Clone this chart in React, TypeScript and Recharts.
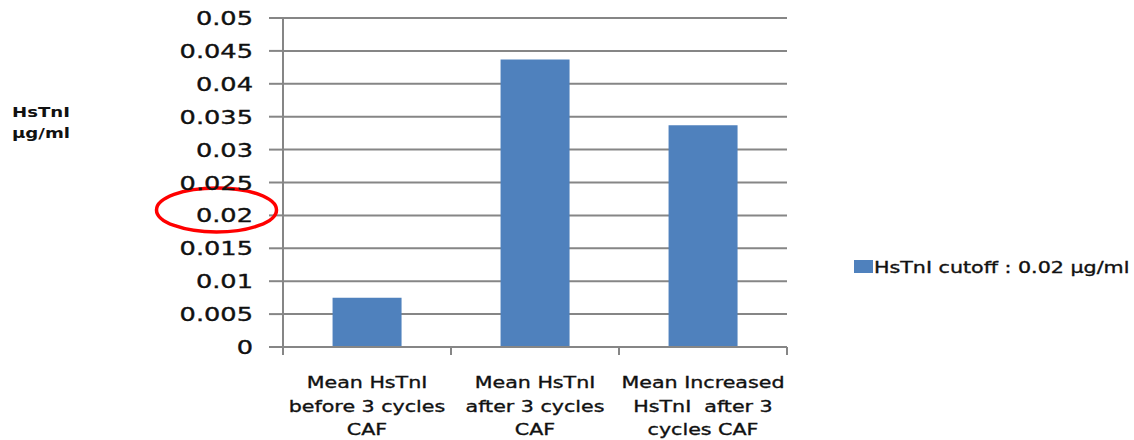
import React from 'react';
import { BarChart, Bar, XAxis, YAxis, CartesianGrid, Legend } from 'recharts';

// values in µg/ml
const seriesName = 'HsTnI cutoff : 0.02 µg/ml';
const categories = ['before', 'after', 'increased'];
const categoryLabels = [
  ['Mean HsTnI', 'before 3 cycles', 'CAF'],
  ['Mean HsTnI', 'after 3 cycles', 'CAF'],
  ['Mean Increased', 'HsTnI  after 3', 'cycles CAF'],
];
const values = [0.0075, 0.0437, 0.0337];
const yTicks = [0, 0.005, 0.01, 0.015, 0.02, 0.025, 0.03, 0.035, 0.04, 0.045, 0.05];
const cutoff = 0.02;
const axisTitle = ['HsTnI', 'µg/ml'];

const data = categories.map((key, i) => ({ key, label: categoryLabels[i], value: values[i] }));

const FONT = '"DejaVu Sans", Verdana, sans-serif';
const GRID = '#868686';
const BAR = '#4f81bd';
const INK = '#111';
const STRETCH = 1.3;
const LEGEND_W = 280;

// slightly heavier glyphs than the regular face
const textInk = { fill: INK, stroke: INK, strokeWidth: 0.35 };

if (typeof document !== 'undefined') document.body.style.margin = '0';

function YTick(props: any) {
  const { x, y, payload } = props;
  return (
    <g>
      <text
        transform={`translate(${x},${y + 7}) scale(${STRETCH + 0.05},1)`}
        textAnchor="end"
        fontFamily={FONT}
        fontSize={19}
        {...textInk}
      >
        {String(payload.value)}
      </text>
      {payload.value === cutoff && (
        <ellipse cx={x - 36.5} cy={y - 5.5} rx={60} ry={22} fill="none" stroke="#ff0000" strokeWidth={3.5} />
      )}
    </g>
  );
}

function XTick(props: any) {
  const { x, y, index, width, visibleTicksCount } = props;
  const band = width && visibleTicksCount ? width / visibleTicksCount : 168;
  const lines = categoryLabels[index] ?? [];
  const last = index === visibleTicksCount - 1;
  return (
    <g>
      <line x1={x - band / 2} x2={x - band / 2} y1={y} y2={y + 8} stroke={GRID} strokeWidth={2} />
      {last && <line x1={x + band / 2} x2={x + band / 2} y1={y} y2={y + 8} stroke={GRID} strokeWidth={2} />}
      {lines.map((line, i) => (
        <text
          key={i}
          transform={`translate(${x},${y + 41 + i * 23.5}) scale(${STRETCH - 0.05},1)`}
          textAnchor="middle"
          fontFamily={FONT}
          fontSize={16.5}
          {...textInk}
          style={{ whiteSpace: 'pre' }}
        >
          {line}
        </text>
      ))}
    </g>
  );
}

function AxisTitle() {
  return (
    <g>
      {axisTitle.map((t, i) => (
        <text
          key={i}
          transform={`translate(12,${117 + i * 21}) scale(1.25,1)`}
          fontFamily={FONT}
          fontSize={14.5}
          fontWeight="bold"
          fill={INK}
        >
          {t}
        </text>
      ))}
    </g>
  );
}

function LegendBox() {
  return (
    <svg width={LEGEND_W} height={24} style={{ display: 'block' }}>
      <rect x={0} y={4} width={19} height={13} fill={BAR} />
      <text
        transform={`translate(20,17) scale(1.29,1)`}
        fontFamily={FONT}
        fontSize={16}
        {...textInk}
      >
        {seriesName}
      </text>
    </svg>
  );
}

export default function App() {
  return (
    <BarChart
      width={1134}
      height={440}
      data={data}
      // the legend's width is added to the right offset
      margin={{ top: 18, right: 347 - LEGEND_W, bottom: 0, left: 0 }}
      barCategoryGap="29.5%"
    >
      <CartesianGrid vertical={false} stroke={GRID} strokeWidth={2} />
      <XAxis
        dataKey="key"
        axisLine={{ stroke: GRID, strokeWidth: 2 }}
        tickLine={false}
        tickSize={0}
        tickMargin={0}
        tick={<XTick />}
        interval={0}
        height={93}
      />
      <YAxis
        width={283}
        domain={[0, 0.05]}
        ticks={yTicks}
        interval={0}
        axisLine={{ stroke: GRID, strokeWidth: 2 }}
        tickLine={{ stroke: GRID, strokeWidth: 2 }}
        tickSize={14}
        tickMargin={16}
        tick={<YTick />}
        label={<AxisTitle />}
      />
      <Legend
        content={<LegendBox />}
        layout="vertical"
        align="right"
        verticalAlign="top"
        wrapperStyle={{ left: 854, top: 256, width: LEGEND_W }}
      />
      <Bar dataKey="value" name={seriesName} fill={BAR} isAnimationActive={false} />
    </BarChart>
  );
}
